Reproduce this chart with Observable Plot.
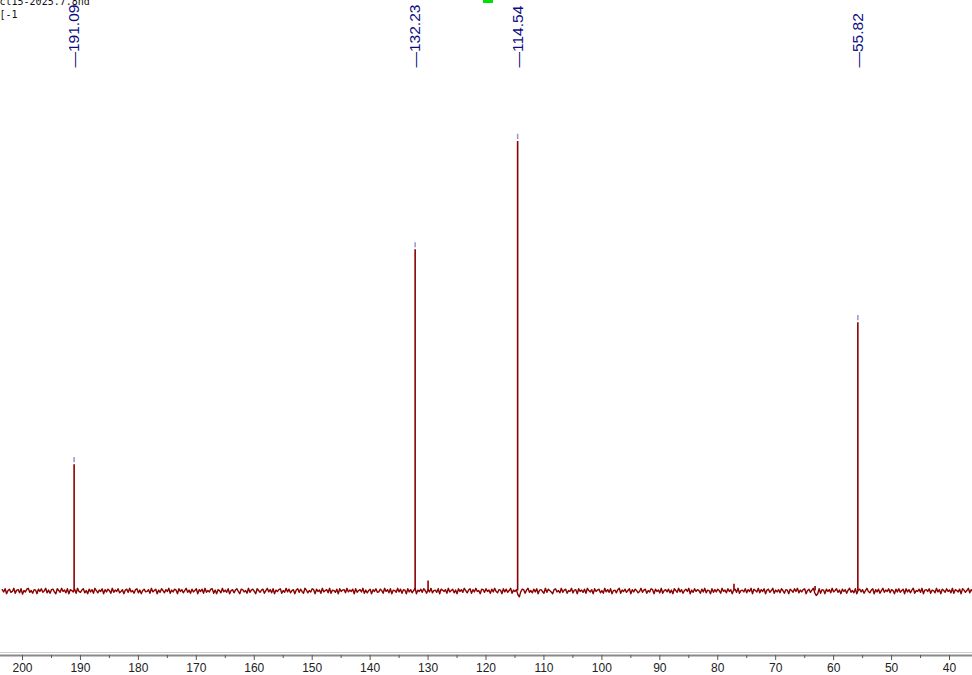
<!DOCTYPE html>
<html>
<head>
<meta charset="utf-8">
<script src="https://cdn.jsdelivr.net/npm/d3@7"></script>
<script src="https://cdn.jsdelivr.net/npm/@observablehq/plot@0.6"></script>
<style>
  html, body { margin: 0; padding: 0; background: #fff; }
  #wrap { position: relative; width: 972px; height: 675px; overflow: hidden; }
  #green { position: absolute; left: 483px; top: 0; width: 10px; height: 3px; background: #00e000; }
</style>
</head>
<body>
<div id="wrap"><div id="green"></div></div>
<script>
// Peak positions (ppm) and relative intensities
const peakPpm       = [191.09, 132.23, 130.0, 114.54, 77.2, 63.2, 55.82];
const peakIntensity = [28.1,   75.9,   2.2,   100,    1.5,  1.0,  59.7];
const peakPicked    = [true,   true,   false, true,   false, false, true];

// Peak-pick labels
const labelPpm  = [191.09, 132.23, 114.54, 55.82];
const labelText = ["191.09", "132.23", "114.54", "55.82"];

// Baseline noise, sampled every 0.25 ppm starting at 203.5 ppm
const noiseStart = 203.5;
const noiseStep = 0.25;
const noise = [
  .3,-.2,.5,-.6,.1,.4,-.3,-.1,.6,-.5,.2,.3,-.4,.5,-.7,.1,-.2,.4,.6,-.3,
  .1,-.5,.3,.2,-.6,.4,-.1,.5,-.3,.0,.6,-.4,.2,-.5,.3,.4,-.2,-.6,.5,.1,
  -.3,.6,-.1,.2,-.4,.5,-.6,.3,.1,-.2,.4,-.5,.6,-.1,-.3,.2,.5,-.4,.1,-.6,
  .4,-.2,.3,-.5,.6,.1,-.4,.2,-.1,.5,-.6,.3,-.2,.4,.1,-.5,.6,-.3,.2,-.1,
  .5,-.4,-.1,.3,-.6,.2,.4,-.3,.6,-.2,.1,-.5,.3,.5,-.4,.2,-.6,.1,.4,-.2,
  -.1,.3,-.5,.6,-.2,.1,.4,-.6,.2,-.3,.5,.1,-.4,.3,-.1,.6,-.5,.2,-.2,.4,
  .2,-.6,.5,-.1,.3,-.4,.1,.6,-.3,.2,-.5,.4,-.2,.1,.5,-.6,.3,-.1,.4,-.5,
  .6,-.3,.1,-.2,.4,.5,-.5,.2,-.6,.3,.1,-.4,.6,-.2,.2,-.3,.5,-.6,.1,.3,
  -.4,.2,.5,-.1,-.6,.4,.3,-.2,.1,-.5,.6,-.3,.2,.4,-.1,-.6,.5,.1,-.3,.2,
  .4,-.5,.1,.6,-.2,.3,-.4,.5,-.6,.2,-.1,.3,.5,-.5,.1,-.3,.6,-.2,.4,-.4,
  .1,.3,-.6,.2,.5,-.3,.4,-.1,-.5,.6,.2,-.4,.1,-.2,.5,.3,-.6,.4,-.1,.2,
  -.5,.6,-.2,.1,.3,-.4,.6,-.5,.2,.1,-.3,.4,-.6,.5,-.1,.2,.3,-.4,.6,-.2,
  .2,-.1,.4,-.6,.5,-.3,.1,.3,-.2,.6,-.5,.2,-.4,.1,.4,-.6,.3,-.1,.5,-.3,
  -.2,.4,.1,-.5,.6,-.1,.3,-.4,.5,-.6,.2,.1,-.3,.6,-.2,.4,-.5,.3,.2,-.6,
  .5,-.2,.3,-.4,.1,.6,-.6,.2,-.1,.4,-.3,.5,.1,-.5,.3,-.2,.6,-.4,.1,.2,
  -.3,.5,-.6,.4,.2,-.1,.3,-.5,.6,-.2,.1,.4,-.4,.2,-.6,.5,-.1,.3,-.3,.6,
  .1,-.4,.2,.5,-.5,.3,-.2,.6,-.1,.1,-.6,.4,.3,-.3,.5,-.1,.2,-.5,.4,-.2,
  .6,-.1,-.4,.3,.2,-.6,.5,-.2,.4,-.3,.1,.6,-.5,.2,-.1,.3,-.8,-1.3,-.2,.4,
  .3,-.5,.2,.6,-.3,.1,-.4,.4,-.2,.5,-.6,.2,.3,-.1,-.5,.6,-.3,.4,.1,-.2,
  -.6,.3,.5,-.2,.1,-.4,.6,-.3,.2,.4,-.5,.1,-.1,.6,-.4,.2,.3,-.6,.5,-.1,
  .2,-.3,.4,-.5,.6,.1,-.2,.3,-.6,.5,-.1,.2,.4,-.4,.1,-.5,.6,-.2,.3,-.3,
  .5,-.6,.1,.2,-.4,.3,.6,-.5,.2,-.1,.4,-.3,.1,.5,-.6,.3,-.2,.4,.1,-.4,
  -.1,.6,-.3,.2,.4,-.5,.1,-.2,.5,.3,-.6,.4,-.1,.2,-.4,.6,-.5,.1,.3,-.2,
  .4,-.4,.2,-.6,.5,.1,-.3,.6,-.2,.3,-.5,.1,.4,-.1,.6,-.6,.2,-.3,.5,-.1,
  .3,.1,-.5,.4,-.2,.6,-.4,.2,.1,-.6,.5,-.3,.3,-.2,.4,.1,-.5,.6,-.1,.2,
  -.4,.5,-.1,.3,-.6,.2,.4,-.3,.6,-.5,.1,.2,-.2,.5,-.4,.3,-.1,.6,-.6,.4,
  .1,-.2,.6,-.4,.3,-.1,.5,-.6,.2,.4,-.3,.1,.6,-.5,.2,-.2,.3,-.4,.5,.1,
  -.5,.3,.2,-.6,.4,.1,-.3,.5,-.1,.6,-.4,.2,-.2,.3,.5,-.6,.1,.4,-.3,.2,
  .6,-.4,-1.0,-.6,.5,-.5,.3,.2,-.6,.4,-.1,.3,-.4,.6,-.2,.1,.5,-.3,.2,-.6,
  .4,-.1,.3,-.5,.2,.6,-.3,.1,-.4,.5,-.6,.2,.4,-.2,.3,-.5,.1,.6,-.1,-.4,
  .2,.5,-.6,.3,-.2,.4,-.5,.1,.6,-.3,.2,-.1,.5,-.4,.3,.1,-.6,.4,-.2,.5,
  -.3,.1,.4,-.6,.5,-.2,.3,-.4,.2,.6,-.5,.1,-.1,.4,-.3,.6,-.6,.2,.3,-.1,
  .5,-.5,.2,.1,-.4,.6,-.2,.3,-.6,.4,.1,-.3,.5,-.1,.2,-.4,.6,-.5,.3,.1,
  -.2,.4,-.6,.5,.2,-.3,.1,.6,-.4,.3,-.1,.5,-.5,.2,.4,-.6,.3,-.2,.1,.5
];

// Axis ticks (ppm)
const majorTicks = [200,190,180,170,160,150,140,130,120,110,100,90,80,70,60,50,40];
const minorTicks = [195,185,175,165,155,145,135,125,115,105,95,85,75,65,55,45];

const baseline = noise.map((v, i) => ({ppm: noiseStart - i * noiseStep, v}));
const peaks = peakPpm.map((p, i) => ({ppm: p, h: peakIntensity[i], picked: peakPicked[i]}));
const labels = labelPpm.map((p, i) => ({ppm: p, text: "\u2014" + labelText[i]}));

const red = "#8b0000";

const chart = Plot.plot({
  width: 972,
  height: 675,
  marginTop: 0,
  marginRight: 0,
  marginLeft: 0,
  marginBottom: 20,
  style: {fontFamily: "Liberation Sans, Arial, sans-serif", background: "transparent"},
  x: {domain: [200, 40], range: [22, 949], label: null},
  y: {domain: [0, 100], range: [590.5, 141], axis: null, label: null},
  marks: [
    Plot.frame({anchor: "bottom", stroke: "#cfcfcf", strokeWidth: 1, dy: -3}),
    Plot.frame({anchor: "bottom", stroke: "#8a8a8a", strokeWidth: 2}),
    Plot.axisX(minorTicks, {anchor: "bottom", tickSize: 3, tickFormat: () => "", stroke: "#555", label: null}),
    Plot.axisX(majorTicks, {anchor: "bottom", tickSize: 5, tickPadding: 3, tickFormat: d3.format("d"), fontSize: 12, stroke: "#555", fill: "#222", label: null}),
    Plot.line(baseline, {x: "ppm", y: "v", stroke: red, strokeWidth: 1.4, clip: true}),
    Plot.ruleX(peaks, {x: "ppm", y1: 0, y2: "h", stroke: red, strokeWidth: 1.6}),
    Plot.ruleX(peaks.filter(d => d.picked), {x: "ppm", y1: d => d.h + 0.45, y2: d => d.h + 1.6, stroke: "#9a9ad8", strokeWidth: 1.6}),
    Plot.text(labels, {x: "ppm", text: "text", frameAnchor: "top", dy: 67, rotate: -90, textAnchor: "start", lineAnchor: "middle", fill: "#0c0c82", fontSize: 15.5}),
    Plot.text(["ct15-2025.7.8nd"], {frameAnchor: "top-left", dx: -1, dy: -3, textAnchor: "start", lineAnchor: "top", fontFamily: "DejaVu Sans Mono", fontSize: 10, fill: "#111"}),
    Plot.text(["[-1"], {frameAnchor: "top-left", dx: -1, dy: 10, textAnchor: "start", lineAnchor: "top", fontFamily: "DejaVu Sans Mono", fontSize: 10, fill: "#111"})
  ]
});
document.getElementById("wrap").prepend(chart);
</script>
</body>
</html>
